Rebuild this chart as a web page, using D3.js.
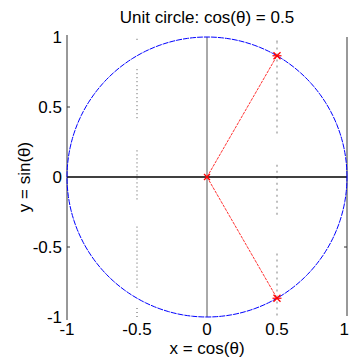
<!DOCTYPE html>
<html><head><meta charset="utf-8">
<script src="https://cdn.jsdelivr.net/npm/d3@7"></script>
<style>body{margin:0;background:#fff}svg{display:block}text{font-family:"Liberation Sans",Arial,sans-serif}</style>
</head><body>
<script>
const xTicks = [-1, -0.5, 0, 0.5, 1];
const yTicks = [-1, -0.5, 0, 0.5, 1];
const xTickLabels = ["-1", "-0.5", "0", "0.5", "1"];
const yTickLabels = ["-1", "-0.5", "0", "0.5", "1"];
const cosValue = 0.5;
const pointsX = [0.5, 0.5];
const pointsY = [0.866, -0.866];
// dotted grid segments (y ranges) at x = -0.5 and x = 0.5
const gridLeftSegs = [[0.98, 1], [0.42, 0.79], [-0.16, 0.21], [-0.79, -0.34], [-1, -0.92]];
const gridRightSegs = [[0.96, 1], [0.31, 0.96], [-0.27, 0.1], [-0.99, -0.52]];
const titleText = "Unit circle: cos(θ) = 0.5";
const xLabelText = "x = cos(θ)";
const yLabelText = "y = sin(θ)";

const W = 350, H = 359;
const svg = d3.select("body").append("svg").attr("width", W).attr("height", H);
const x = d3.scaleLinear().domain([-1, 1]).range([67, 347]);
const y = d3.scaleLinear().domain([-1, 1]).range([317, 37]);

// grid dotted segments
gridLeftSegs.forEach(s => svg.append("line")
  .attr("x1", x(-0.5)).attr("x2", x(-0.5)).attr("y1", y(s[0])).attr("y2", y(s[1]))
  .attr("stroke", "#555").attr("stroke-width", 1).attr("stroke-dasharray", "1,3"));
gridRightSegs.forEach(s => svg.append("line")
  .attr("x1", x(0.5)).attr("x2", x(0.5)).attr("y1", y(s[0])).attr("y2", y(s[1]))
  .attr("stroke", "#aaa").attr("stroke-width", 1.5).attr("stroke-dasharray", "2,4"));

// axis lines
svg.append("line").attr("x1", x(-1)).attr("x2", x(-1)).attr("y1", y(1) - 2).attr("y2", y(-1) + 3)
  .attr("stroke", "#333").attr("stroke-width", 1);
svg.append("line").attr("x1", x(1)).attr("x2", x(1)).attr("y1", y(1)).attr("y2", y(-1) - 1)
  .attr("stroke", "#999").attr("stroke-width", 2);
// ticks
[0.5, -0.5].forEach(v => {
  svg.append("line").attr("x1", x(-1)).attr("x2", x(-1) + 3).attr("y1", y(v)).attr("y2", y(v)).attr("stroke", "#333");
});
svg.append("line").attr("x1", x(1) - 3).attr("x2", x(1)).attr("y1", y(-0.5)).attr("y2", y(-0.5)).attr("stroke", "#333");

// zero lines
svg.append("line").attr("x1", x(0)).attr("x2", x(0)).attr("y1", y(1)).attr("y2", y(-1))
  .attr("stroke", "#555").attr("stroke-width", 1);
svg.append("line").attr("x1", x(-1)).attr("x2", x(1)).attr("y1", y(0)).attr("y2", y(0))
  .attr("stroke", "#000").attr("stroke-width", 1.3);

// unit circle
const circ = d3.range(0, 361, 2).map(a => [Math.cos(a * Math.PI / 180), Math.sin(a * Math.PI / 180)]);
svg.append("path").datum(circ)
  .attr("d", d3.line().x(d => x(d[0])).y(d => y(d[1])))
  .attr("fill", "none").attr("stroke", "#0000ff").attr("stroke-width", 1).attr("stroke-dasharray", "6,1");

// red radii
pointsX.forEach((px, i) => {
  svg.append("line").attr("x1", x(0)).attr("y1", y(0)).attr("x2", x(px)).attr("y2", y(pointsY[i]))
    .attr("stroke", "#ff3333").attr("stroke-width", 1).attr("stroke-dasharray", "3,1");
});
function marker(cx, cy, s, star) {
  const g = svg.append("g").attr("stroke", "#ff0000").attr("stroke-width", 1.2);
  g.append("line").attr("x1", cx - s).attr("y1", cy - s).attr("x2", cx + s).attr("y2", cy + s);
  g.append("line").attr("x1", cx - s).attr("y1", cy + s).attr("x2", cx + s).attr("y2", cy - s);
  if (star) g.append("line").attr("x1", cx - s - 1).attr("y1", cy).attr("x2", cx + s + 1).attr("y2", cy);
}
marker(x(0), y(0), 3, false);
pointsX.forEach((px, i) => marker(x(px), y(pointsY[i]), 3.5, true));

// tick labels
svg.selectAll(".yl").data(yTicks).enter().append("text")
  .attr("x", 62).attr("y", d => y(d)).attr("dy", "0.35em").attr("text-anchor", "end")
  .attr("font-size", 17).attr("fill", "#000").text((d, i) => yTickLabels[i]);
svg.selectAll(".xl").data(xTicks).enter().append("text")
  .attr("x", d => d === 1 ? W - 1 : x(d)).attr("y", 335)
  .attr("text-anchor", d => d === 1 ? "end" : "middle")
  .attr("font-size", 17).attr("fill", "#000").text((d, i) => xTickLabels[i]);

// title and labels
svg.append("text").attr("x", 207).attr("y", 23).attr("text-anchor", "middle").attr("font-size", 17).text(titleText);
svg.append("text").attr("x", 207).attr("y", 354).attr("text-anchor", "middle").attr("font-size", 17).text(xLabelText);
svg.append("text").attr("transform", "translate(30,177) rotate(-90)").attr("text-anchor", "middle").attr("font-size", 17).text(yLabelText);
</script>
</body></html>
